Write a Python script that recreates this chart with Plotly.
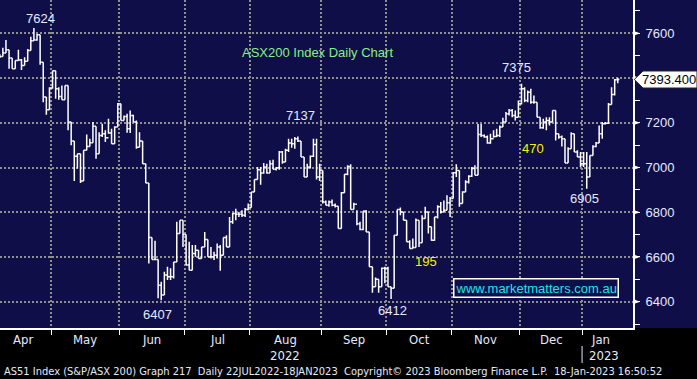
import pandas as pd
import plotly.graph_objects as go

# ---------------- data ----------------
holidays = ["2022-04-15", "2022-04-18", "2022-04-25", "2022-06-13",
            "2022-09-22", "2022-12-26", "2022-12-27", "2023-01-02"]
trade_days = [d for d in pd.bdate_range("2022-04-01", "2023-01-18")
              if d.strftime("%Y-%m-%d") not in holidays]

high = [
    # Apr
    7500, 7508, 7535, 7570, 7526, 7490, 7478, 7526, 7485, 7493, 7530, 7585, 7624, 7597, 7594, 7471, 7315, 7359,
    # May
    7433, 7433, 7359, 7367, 7367, 7367, 7203, 7118, 7062, 7062, 7077, 7148, 7129, 7203, 7184, 7158, 7196, 7166, 7218, 7173, 7184, 7288,
    # Jun
    7285, 7233, 7240, 7255, 7236, 7210, 7158, 7118, 7017, 6931, 6687, 6672, 6589, 6489, 6534, 6556, 6549, 6578, 6757, 6764, 6764,
    # Jul
    6700, 6668, 6653, 6653, 6630, 6645, 6712, 6678, 6645, 6623, 6660, 6653, 6687, 6697, 6779, 6797, 6816, 6801, 6809, 6819, 6839,
    # Aug
    6891, 6946, 7002, 7002, 7020, 7017, 7032, 7035, 7002, 7074, 7074, 7084, 7129, 7129, 7136, 7139, 7118, 7047, 7017, 7054, 7129, 7129, 7017,
    # Sep
    6987, 6853, 6853, 6857, 6839, 6827, 6891, 6970, 7010, 7014, 6842, 6809, 6757, 6806, 6809, 6712, 6556, 6508, 6500, 6553, 6556,
    # Oct
    6556, 6467, 6697, 6812, 6821, 6801, 6764, 6675, 6683, 6772, 6764, 6787, 6824, 6801, 6735, 6779, 6831, 6846, 6853, 6876, 6868,
    # Nov
    6980, 7014, 6987, 6894, 6943, 6965, 7002, 7010, 7195, 7195, 7148, 7143, 7151, 7166, 7173, 7188, 7222, 7248, 7262, 7262, 7255, 7300,
    # Dec
    7375, 7359, 7344, 7352, 7322, 7292, 7225, 7218, 7225, 7225, 7255, 7255, 7151, 7143, 7129, 7091, 7158, 7151, 7077, 7069,
    # Jan
    7069, 7069, 7054, 7099, 7114, 7188, 7203, 7203, 7288, 7359, 7396, 7401,
]
low = [
    7470, 7490, 7496, 7512, 7441, 7441, 7441, 7478, 7436, 7456, 7475, 7523, 7567, 7567, 7459, 7292, 7236, 7258,
    7352, 7307, 7303, 7303, 7303, 7166, 7099, 6940, 6995, 6931, 6940, 7077, 7094, 7111, 7039, 7062, 7136, 7114, 7151, 7106, 7106, 7181,
    7210, 7210, 7155, 7154, 7203, 7084, 7091, 7017, 6931, 6571, 6589, 6589, 6415, 6407, 6430, 6497, 6497, 6504, 6578, 6705, 6645,
    6564, 6541, 6541, 6601, 6593, 6593, 6645, 6601, 6593, 6586, 6593, 6538, 6608, 6645, 6645, 6749, 6764, 6779, 6779, 6779, 6809,
    6821, 6891, 6946, 6923, 6972, 6972, 6975, 6992, 6987, 6990, 7017, 7025, 7069, 7088, 7084, 7114, 7047, 6958, 6958, 6995, 7047, 6946, 6940,
    6839, 6831, 6824, 6827, 6821, 6727, 6727, 6887, 6965, 6812, 6812, 6742, 6720, 6720, 6712, 6556, 6440, 6467, 6440, 6467, 6482,
    6467, 6412, 6460, 6697, 6787, 6764, 6668, 6638, 6638, 6642, 6645, 6663, 6772, 6705, 6672, 6672, 6772, 6794, 6801, 6809, 6779,
    6861, 6958, 6824, 6839, 6891, 6928, 6958, 6965, 6965, 7136, 7133, 7106, 7106, 7133, 7136, 7136, 7181, 7203, 7233, 7225, 7210, 7225,
    7282, 7292, 7292, 7285, 7285, 7225, 7173, 7173, 7166, 7188, 7203, 7121, 7129, 7094, 7020, 7020, 7084, 7069, 7047, 7002,
    7002, 6905, 6958, 7054, 7091, 7109, 7129, 7192, 7196, 7282, 7322, 7377,
]
close = [
    7490, 7496, 7512, 7526, 7490, 7441, 7478, 7481, 7456, 7475, 7523, 7567, 7570, 7594, 7471, 7315, 7258, 7356,
    7433, 7352, 7318, 7303, 7367, 7203, 7118, 7050, 7062, 6940, 7077, 7094, 7111, 7184, 7062, 7143, 7151, 7133, 7154, 7106, 7181, 7285,
    7210, 7228, 7173, 7233, 7203, 7091, 7118, 7017, 6931, 6687, 6589, 6589, 6474, 6430, 6519, 6512, 6512, 6578, 6705, 6764, 6700,
    6564, 6541, 6616, 6630, 6593, 6645, 6678, 6601, 6601, 6608, 6645, 6608, 6687, 6645, 6757, 6794, 6791, 6791, 6787, 6812, 6821,
    6891, 6946, 6990, 6975, 7002, 6975, 7017, 6992, 6999, 7069, 7025, 7077, 7109, 7106, 7129, 7118, 7047, 6958, 7002, 7050, 7103, 6958, 6987,
    6846, 6831, 6846, 6831, 6827, 6727, 6887, 6970, 7005, 6812, 6836, 6749, 6723, 6806, 6712, 6556, 6467, 6500, 6467, 6549, 6549,
    6467, 6460, 6697, 6812, 6801, 6764, 6668, 6638, 6642, 6764, 6663, 6772, 6801, 6735, 6675, 6779, 6824, 6801, 6809, 6842, 6861,
    6976, 6987, 6839, 6891, 6935, 6961, 6995, 6965, 7148, 7143, 7136, 7109, 7129, 7139, 7143, 7181, 7203, 7240, 7255, 7233, 7225, 7285,
    7352, 7300, 7337, 7292, 7292, 7225, 7178, 7203, 7210, 7203, 7255, 7151, 7136, 7129, 7020, 7084, 7151, 7069, 7047, 7017,
    7017, 6958, 7054, 7094, 7109, 7151, 7196, 7198, 7282, 7326, 7392, 7393.4,
]
first_open = 7480
open_ = [first_open] + close[:-1]   # each bar opens at the prior close (step look)

y_ticks = [6400, 6600, 6800, 7000, 7200, 7400, 7600]
last_price = 7393.400
peak_labels = [("7624", 41, 18), ("7137", 300, 115), ("6407", 157, 314),
               ("6412", 392, 310), ("7375", 516, 68), ("6905", 584, 198)]
move_labels = [("195", 426, 261), ("470", 533, 148)]

assert len(high) == len(low) == len(close) == len(trade_days)

# ---------------- figure ----------------
W, H = 697, 379
PL, PR, PT, PB = 0, 64, 0, 51
pw, ph = W - PL - PR, H - PT - PB
NAVY = "#100e48"
GRID = "#8f8f8f"
TXT = "#e4eaff"
NARROW = "DejaVu Sans Condensed, Liberation Sans Narrow, Arial Narrow, sans-serif"
SANS = "Liberation Sans, Arial, sans-serif"

idx = list(range(len(trade_days)))
months = [d.strftime("%Y-%m") for d in trade_days]
starts = [0] + [i for i in range(1, len(idx)) if months[i] != months[i - 1]]
ends = starts[1:] + [len(idx)]
bounds = [s - 0.5 for s in starts[1:]]
centers = [(s + e - 1) / 2 for s, e in zip(starts, ends)]
labels = [trade_days[s].strftime("%b") for s in starts]

fig = go.Figure(go.Ohlc(
    x=idx, open=open_, high=high, low=low, close=close,
    increasing=dict(line=dict(color="white", width=1.5)),
    decreasing=dict(line=dict(color="white", width=1.5)),
    tickwidth=0.5, hoverinfo="skip", showlegend=False,
))

px2x = lambda p: p / pw
px2y = lambda p: 1 - p / ph
C = dict(xanchor="center", yanchor="middle", showarrow=False)

ann = []
for t, x, y in peak_labels:
    ann.append(dict(text=t, x=px2x(x), y=px2y(y), xref="paper", yref="paper",
                    font=dict(family=SANS, size=13, color=TXT), **C))
for t, x, y in move_labels:
    ann.append(dict(text=t, x=px2x(x), y=px2y(y), xref="paper", yref="paper",
                    font=dict(family=SANS, size=13, color="#f2f20a"), **C))
ann.append(dict(text="ASX200 Index Daily Chart", x=px2x(317), y=px2y(52), xref="paper", yref="paper",
                font=dict(family=SANS, size=13, color="#84f184"), **C))
ann.append(dict(text="www.marketmatters.com.au", x=px2x(535.5), y=px2y(288), xref="paper", yref="paper",
                font=dict(family=SANS, size=13, color="#19e3ef"),
                bordercolor="white", borderwidth=1.5, borderpad=1, bgcolor=NAVY, **C))
# month labels
for c, lab in zip(centers, labels):
    ann.append(dict(text=lab, x=c, y=px2y(339), xref="x", yref="paper",
                    font=dict(family=NARROW, size=13, color=TXT), **C))
# years
aug_i = labels.index("Aug")
ann.append(dict(text="2022", x=centers[aug_i], y=px2y(355), xref="x", yref="paper",
                font=dict(family=NARROW, size=13, color=TXT), **C))
ann.append(dict(text="2023", x=centers[-1] + 1, y=px2y(355), xref="x", yref="paper",
                font=dict(family=NARROW, size=13, color=TXT), **C))
# footer
ann.append(dict(text="AS51 Index (S&P/ASX 200) Graph 217  Daily 22JUL2022-18JAN2023  "
                     "Copyright\u00a9 2023 Bloomberg Finance L.P.  18-Jan-2023 16:50:52",
                x=px2x(2), y=px2y(371), xref="paper", yref="paper", xanchor="left", yanchor="middle",
                showarrow=False, font=dict(family=NARROW, size=11, color=TXT)))

shapes = [
    dict(type="rect", xref="paper", yref="paper", x0=1, x1=W / pw, y0=0, y1=1,
         fillcolor=NAVY, line=dict(width=0), layer="below"),
    dict(type="line", xref="x", yref="paper", x0=bounds[-1], x1=bounds[-1],
         y0=px2y(346), y1=px2y(363), line=dict(color=TXT, width=1)),
]
upp = (7748.9 - 6282.4) / ph
for v in y_ticks:
    shapes.append(dict(type="path", xref="paper", yref="y",
                       path=f"M 1,{v + 2.6 * upp} L 1,{v - 2.6 * upp} L {1 + 7 / pw},{v} Z",
                       fillcolor="white", line=dict(width=0)))
hh = 8.5 * upp
shapes.append(dict(type="path", xref="paper", yref="y",
                   path=(f"M 1.002,{last_price} L {1 + 10 / pw},{last_price + hh} "
                         f"L {W / pw},{last_price + hh} L {W / pw},{last_price - hh} "
                         f"L {1 + 10 / pw},{last_price - hh} Z"),
                   fillcolor="white", line=dict(color="#222222", width=1)))
# last price text (after the tag so it sits on top)
ann.append(dict(text=f"{last_price:.3f}", x=px2x(669), y=last_price, xref="paper", yref="y",
                font=dict(family=SANS, size=13, color="black"), **C))

fig.update_layout(
    width=W, height=H, margin=dict(l=PL, r=PR, t=PT, b=PB, autoexpand=False),
    paper_bgcolor="black", plot_bgcolor=NAVY,
    annotations=ann, shapes=shapes, showlegend=False,
    xaxis=dict(range=[1.08, 204.9], tickvals=bounds, showticklabels=False,
               ticks="outside", ticklen=5, tickcolor="white", tickwidth=1,
               showgrid=True, gridcolor=GRID, gridwidth=2, griddash="2px,2px",
               showline=True, linecolor="white", linewidth=2, zeroline=False,
               rangeslider=dict(visible=False), fixedrange=True, automargin=False),
    yaxis=dict(range=[6282.4, 7748.9], side="right", tickvals=y_ticks,
               ticktext=[("" if v == 7400 else str(v)) for v in y_ticks],
               ticks="outside", ticklen=8, tickcolor="rgba(0,0,0,0)",
               tickfont=dict(family=SANS, size=13, color=TXT),
               minor=dict(dtick=100, tick0=0, ticks="outside", ticklen=5, tickcolor="white", showgrid=False),
               showgrid=True, gridcolor=GRID, gridwidth=2, griddash="2px,2px",
               showline=True, linecolor="white", linewidth=2, zeroline=False, fixedrange=True,
               automargin=False),
)

fig.write_html("out.html", config={"displayModeBar": False},
               post_script="document.body.style.margin='0';document.body.style.background='black';")
